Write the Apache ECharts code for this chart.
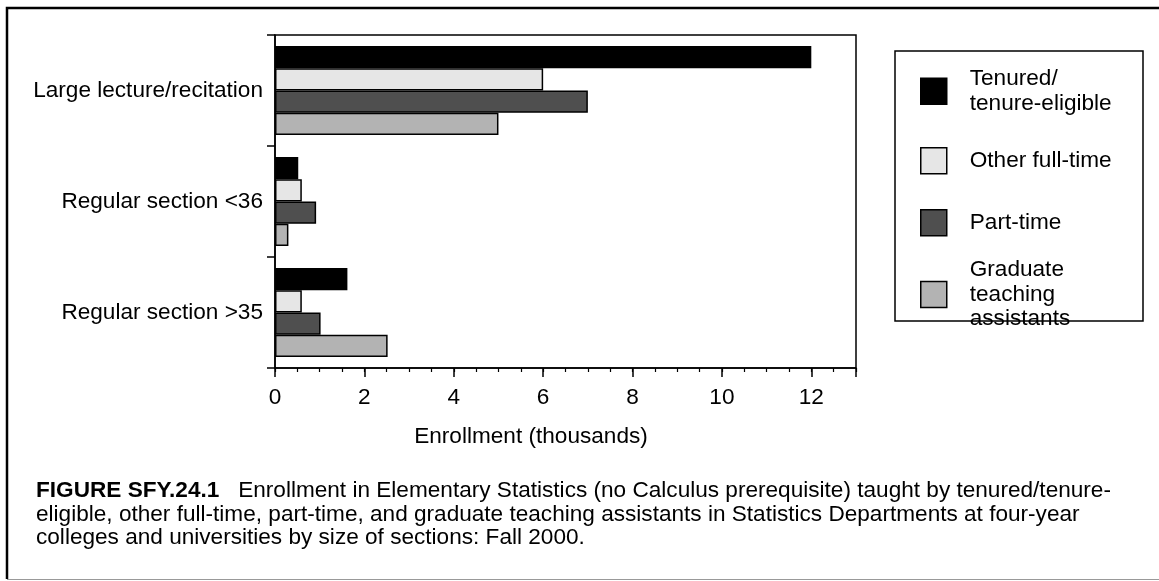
<!DOCTYPE html>
<html>
<head>
<meta charset="utf-8">
<script src="https://cdn.jsdelivr.net/npm/echarts@6/dist/echarts.min.js"></script>
<style>
  html, body { margin: 0; padding: 0; background: #fff; }
  #chart { width: 1159px; height: 581px; }
</style>
</head>
<body>
<div id="chart"></div>
<script>
// Datos (miles de inscritos)
const categories = ["Large lecture/recitation", "Regular section <36", "Regular section >35"];
const seriesNames = ["Tenured/tenure-eligible", "Other full-time", "Part-time", "Graduate teaching assistants"];
const legendLabels = ["Tenured/\ntenure-eligible", "Other full-time", "Part-time", "Graduate\nteaching\nassistants"];
const tenuredValues = [12, 0.52, 1.62];
const otherFullTimeValues = [6, 0.6, 0.6];
const partTimeValues = [7, 0.92, 1.02];
const gradTAValues = [5, 0.3, 2.52];
const seriesColors = ["#000000", "#e6e6e6", "#4f4f4f", "#b3b3b3"];
const xTicks = [0, 2, 4, 6, 8, 10, 12];

const FONT = "'Liberation Sans', Arial, Helvetica, sans-serif";
const FS = 22.6;
const allValues = [tenuredValues, otherFullTimeValues, partTimeValues, gradTAValues];

const chart = echarts.init(document.getElementById("chart"));

const series = seriesNames.map((name, i) => ({
  name: name,
  type: "bar",
  xAxisIndex: 0,
  data: allValues[i],
  barGap: "0%",
  barCategoryGap: "20%",
  itemStyle: { color: seriesColors[i], borderColor: "#000", borderWidth: 1.5 },
  emphasis: { disabled: true },
  animation: false,
}));

// una leyenda por elemento para controlar la posición vertical
const legendTops = [67, 147, 209, 258];
const legends = seriesNames.map((name, i) => ({
  data: [name],
  orient: "vertical",
  left: 920,
  top: legendTops[i],
  padding: 0,
  itemWidth: 26,
  itemHeight: 26,
  icon: "rect",
  selectedMode: false,
  itemStyle: { borderColor: "#000", borderWidth: 1.5 },
  formatter: () => legendLabels[i],
  textStyle: { fontFamily: FONT, fontSize: FS, lineHeight: 24.3, color: "#000", padding: [0, 0, 0, 18] },
}));

const option = {
  animation: false,
  title: {
    left: 36,
    top: 479,
    padding: 0,
    text: "{b|FIGURE SFY.24.1}   Enrollment in Elementary Statistics (no Calculus prerequisite) taught by tenured/tenure-\neligible, other full-time, part-time, and graduate teaching assistants in Statistics Departments at four-year\ncolleges and universities by size of sections: Fall 2000.",
    textStyle: {
      fontFamily: FONT, fontSize: FS, fontWeight: "normal", color: "#000", lineHeight: 23.6,
      rich: { b: { fontFamily: FONT, fontSize: FS, fontWeight: "bold", color: "#000", lineHeight: 23.6 } },
    },
  },
  legend: legends,
  grid: {
    left: 275, right: 303, top: 35, bottom: 213,
    show: true, borderColor: "#000", borderWidth: 1.5, backgroundColor: "transparent",
  },
  xAxis: [
    {
      type: "value", min: 0, max: 13, interval: 2, position: "bottom",
      name: "Enrollment (thousands)", nameLocation: "middle", nameGap: 57,
      nameTextStyle: { fontFamily: FONT, fontSize: FS, color: "#000", padding: [0, 69, 0, 0] },
      axisLine: { show: true, lineStyle: { color: "#000", width: 1.5 } },
      axisTick: { show: true, length: 9, lineStyle: { color: "#000", width: 1.5 } },
      axisLabel: {
        fontFamily: FONT, fontSize: FS, color: "#000", margin: 18,
        formatter: (v) => (xTicks.indexOf(v) >= 0 ? String(v) : ""),
      },
      splitLine: { show: false },
    },
    {
      type: "value", min: 0, max: 13, interval: 0.5, position: "bottom",
      axisLine: { show: false },
      axisTick: { show: true, length: 4, lineStyle: { color: "#000", width: 1.2 } },
      axisLabel: { show: false },
      splitLine: { show: false },
    },
  ],
  yAxis: {
    type: "category", data: categories, inverse: true,
    axisLine: { show: true, lineStyle: { color: "#000", width: 1.5 } },
    axisTick: { show: true, length: 8, lineStyle: { color: "#000", width: 1.5 } },
    axisLabel: { fontFamily: FONT, fontSize: FS, color: "#000", margin: 12 },
  },
  series: series,
  graphic: [
    // marco exterior de la figura
    { type: "polyline", shape: { points: [[1159, 8], [7, 8], [7, 579]] }, style: { stroke: "#000", lineWidth: 2.5, fill: null }, silent: true },
    { type: "line", shape: { x1: 7, y1: 579.5, x2: 1159, y2: 579.5 }, style: { stroke: "#999", lineWidth: 1 }, silent: true },
    // caja de la leyenda
    { type: "rect", shape: { x: 895, y: 51, width: 248, height: 270 }, style: { stroke: "#000", lineWidth: 1.5, fill: null }, silent: true },
  ],
};

chart.setOption(option);
</script>
</body>
</html>
